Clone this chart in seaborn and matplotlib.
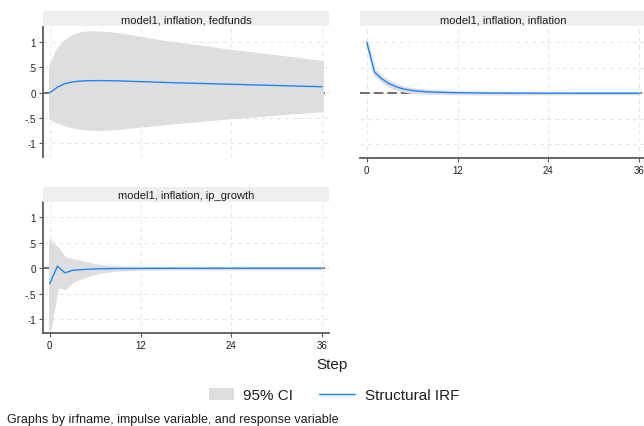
import numpy as np
import pandas as pd
import matplotlib
matplotlib.use("Agg")
import matplotlib.pyplot as plt
import seaborn as sns
from matplotlib.patches import Patch, Rectangle
from matplotlib.lines import Line2D
from matplotlib.legend_handler import HandlerPatch

steps = list(range(37))

# model1, inflation, fedfunds
ff_irf = [0.0, 0.11, 0.18, 0.215, 0.23, 0.238, 0.24, 0.24, 0.238, 0.235, 0.23, 0.225,
          0.22, 0.215, 0.21, 0.205, 0.2, 0.196, 0.192, 0.188, 0.184, 0.18, 0.176, 0.172,
          0.168, 0.164, 0.159, 0.155, 0.151, 0.147, 0.143, 0.139, 0.135, 0.131, 0.127, 0.123, 0.119]
ff_upper = [0.52, 0.87, 1.03, 1.13, 1.18, 1.2, 1.2, 1.19, 1.18, 1.16, 1.14, 1.115,
            1.09, 1.065, 1.04, 1.015, 0.995, 0.975, 0.955, 0.935, 0.915, 0.895, 0.875, 0.855,
            0.835, 0.815, 0.797, 0.779, 0.761, 0.743, 0.725, 0.707, 0.689, 0.671, 0.653, 0.635, 0.617]
ff_lower = [-0.5, -0.58, -0.63, -0.67, -0.7, -0.715, -0.72, -0.72, -0.71, -0.7, -0.685, -0.67,
            -0.655, -0.64, -0.625, -0.61, -0.595, -0.58, -0.567, -0.554, -0.541, -0.528, -0.515, -0.502,
            -0.49, -0.478, -0.466, -0.454, -0.442, -0.43, -0.418, -0.406, -0.395, -0.384, -0.373, -0.362, -0.352]

# model1, inflation, inflation
inf_irf = [1.0, 0.42, 0.28, 0.185, 0.12, 0.08, 0.053, 0.04, 0.027, 0.022, 0.018, 0.014,
           0.011, 0.009, 0.007, 0.006, 0.005, 0.004, 0.003, 0.003, 0.002, 0.002, 0.002, 0.001,
           0.001, 0.001, 0.001, 0.001, 0.0, 0.0, 0.0, 0.0, 0.0, 0.0, 0.0, 0.0, 0.0]
inf_upper = [1.0, 0.46, 0.325, 0.23, 0.16, 0.115, 0.085, 0.068, 0.052, 0.044, 0.037, 0.031,
             0.027, 0.024, 0.021, 0.019, 0.017, 0.015, 0.014, 0.013, 0.012, 0.011, 0.01, 0.009,
             0.009, 0.008, 0.008, 0.007, 0.007, 0.006, 0.006, 0.006, 0.005, 0.005, 0.005, 0.005, 0.004]
inf_lower = [1.0, 0.38, 0.235, 0.14, 0.08, 0.045, 0.021, 0.012, 0.002, 0.0, -0.001, -0.003,
             -0.005, -0.006, -0.007, -0.007, -0.007, -0.007, -0.008, -0.007, -0.008, -0.007, -0.006, -0.007,
             -0.007, -0.006, -0.006, -0.005, -0.007, -0.006, -0.006, -0.006, -0.005, -0.005, -0.005, -0.005, -0.004]

# model1, inflation, ip_growth
ip_irf = [-0.3, 0.04, -0.09, -0.04, -0.03, -0.02, -0.013, -0.01, -0.007, -0.005, -0.004, -0.003,
          -0.003, -0.002, -0.002, -0.002, -0.001, -0.001, -0.001, -0.001, -0.001, 0.0, 0.0, 0.0,
          0.0, 0.0, 0.0, 0.0, 0.0, 0.0, 0.0, 0.0, 0.0, 0.0, 0.0, 0.0, 0.0]
ip_upper = [0.545, 0.4, 0.2, 0.17, 0.14, 0.1, 0.065, 0.045, 0.033, 0.026, 0.02, 0.016,
            0.012, 0.01, 0.008, 0.007, 0.006, 0.005, 0.005, 0.004, 0.004, 0.004, 0.003, 0.003,
            0.003, 0.003, 0.003, 0.002, 0.002, 0.002, 0.002, 0.002, 0.002, 0.002, 0.002, 0.002, 0.002]
ip_lower = [-1.2, -0.355, -0.395, -0.26, -0.19, -0.14, -0.1, -0.065, -0.045, -0.033, -0.025, -0.02,
            -0.015, -0.012, -0.01, -0.008, -0.007, -0.006, -0.005, -0.005, -0.004, -0.004, -0.003, -0.003,
            -0.003, -0.003, -0.003, -0.002, -0.002, -0.002, -0.002, -0.002, -0.002, -0.002, -0.002, -0.002, -0.002]

titles = ["model1, inflation, fedfunds", "model1, inflation, inflation", "model1, inflation, ip_growth"]
x_ticks = [0, 12, 24, 36]
x_ticklabels = ["0", "12", "24", "36"]
y_ticks = [-1, -0.5, 0, 0.5, 1]
y_ticklabels = ["-1", "-.5", "0", ".5", "1"]
ci_label = "95% CI"
irf_label = "Structural IRF"
x_title = "Step"
note = "Graphs by irfname, impulse variable, and response variable"

sns.set_theme(style="white")
plt.rcParams['font.family'] = ['Liberation Sans', 'DejaVu Sans']

W, H = 644, 427
fig = plt.figure(figsize=(W / 100, H / 100), dpi=100)

LINE_C = "#1a85ff"
CI_C = "#dedede"
STRIP_C = "#efefef"
AX_C = "#5a5a5a"
GRID_C = "#e8e8e8"
TXT_C = "#1e1e1e"

def px(x0, y0, x1, y1):
    return [x0 / W, 1 - y1 / H, (x1 - x0) / W, (y1 - y0) / H]

panels = [
    dict(rect=px(43, 28, 329, 158), strip=px(43, 12, 329, 27), data=(ff_irf, ff_lower, ff_upper),
         title=titles[0], yaxis=True, xaxis=False),
    dict(rect=px(360, 28, 646, 159), strip=px(360, 12, 646, 27), data=(inf_irf, inf_lower, inf_upper),
         title=titles[1], yaxis=False, xaxis=True),
    dict(rect=px(43, 203, 329, 334), strip=px(43, 188, 329, 203), data=(ip_irf, ip_lower, ip_upper),
         title=titles[2], yaxis=True, xaxis=True),
]

for p in panels:
    ax = fig.add_axes(p["rect"])
    irf, lo, hi = p["data"]
    df = pd.DataFrame({"step": steps, "irf": irf, "lo": lo, "hi": hi})
    ax.axhline(0, color="#6e6e6e", lw=1.4, dashes=(5, 2), zorder=1)
    ax.fill_between(df["step"], df["lo"], df["hi"], facecolor=CI_C, edgecolor=CI_C,
                    lw=1.8, zorder=2)
    sns.lineplot(data=df, x="step", y="irf", ax=ax, color=LINE_C, lw=1.0, zorder=3)
    ax.set_xlim(-0.9, 36.9)
    ax.set_ylim(-1.27, 1.3)
    ax.set_xticks(x_ticks)
    ax.set_yticks(y_ticks)
    ax.grid(True, color=GRID_C, lw=0.8, dashes=(4, 3))
    ax.set_axisbelow(True)
    ax.set_xlabel("")
    ax.set_ylabel("")
    for s in ["top", "right"]:
        ax.spines[s].set_visible(False)
    ax.spines["left"].set_visible(p["yaxis"])
    ax.spines["bottom"].set_visible(p["xaxis"])
    ax.spines["left"].set_color(AX_C)
    ax.spines["bottom"].set_color(AX_C)
    ax.spines["left"].set_linewidth(1.3)
    ax.spines["bottom"].set_linewidth(1.3)
    if p["yaxis"]:
        ax.set_yticklabels(y_ticklabels)
        ax.tick_params(axis="y", left=True, length=3, width=0.8, color=AX_C, labelsize=7,
                       labelcolor=TXT_C, pad=2)
    else:
        ax.tick_params(axis="y", left=False, labelleft=False)
    if p["xaxis"]:
        ax.set_xticklabels(x_ticklabels)
        ax.tick_params(axis="x", bottom=True, length=3, width=0.8, color=AX_C, labelsize=7,
                       labelcolor=TXT_C, pad=2)
    else:
        ax.tick_params(axis="x", bottom=False, labelbottom=False)
    sax = fig.add_axes(p["strip"])
    sax.set_facecolor(STRIP_C)
    for s in sax.spines.values():
        s.set_visible(False)
    sax.set_xticks([])
    sax.set_yticks([])
    sax.text(0.5, 0.45, p["title"], ha="center", va="center", fontsize=8, color=TXT_C,
             transform=sax.transAxes)

fig.text(332 / W, 1 - 365 / H, x_title, ha="center", va="center", fontsize=11, color=TXT_C)


def small_patch(legend, orig_handle, xdescent, ydescent, width, height, fontsize):
    pw = width * 0.68
    ph = height * 0.95
    return Rectangle((width - pw - xdescent, (height - ph) / 2 - ydescent), pw, ph)


handles = [Patch(facecolor=CI_C, edgecolor="none"), Line2D([0], [0], color=LINE_C, lw=1.0)]
fig.legend(handles, [ci_label, irf_label], loc="center", bbox_to_anchor=(328 / W, 1 - 396 / H),
           ncol=2, frameon=False, fontsize=11, handlelength=2.4, handleheight=0.95,
           columnspacing=1.7, handletextpad=0.6, labelcolor=TXT_C,
           handler_map={Patch: HandlerPatch(patch_func=small_patch)})

fig.text(7 / W, 1 - 420 / H, note, ha="left", va="center", fontsize=9, color=TXT_C)

fig.savefig("out.png", dpi=100, facecolor="white")
